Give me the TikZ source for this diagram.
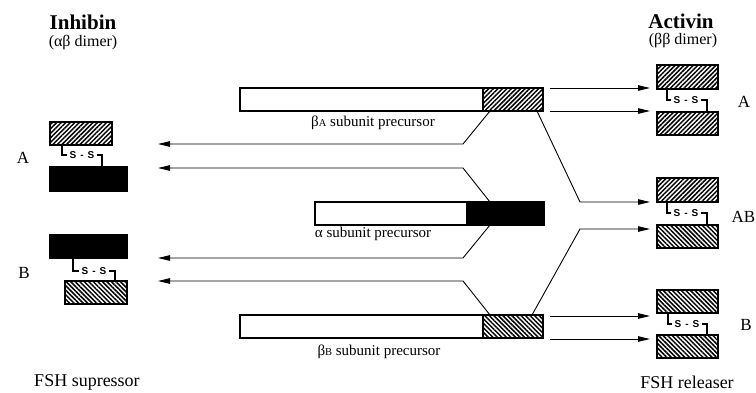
\documentclass[tikz,border=0pt]{standalone}
\usepackage{fontspec}
\setmainfont{Liberation Serif}
\newfontfamily\ssfont{Liberation Sans}
\usetikzlibrary{arrows.meta,patterns.meta}
\tikzset{
  box/.style={draw, line width=1.4pt, inner sep=0pt, outer sep=0pt, anchor=north west},
  hne/.style={box, pattern={Lines[angle=45,distance=3.2pt,line width=1.5pt]}},
  hnw/.style={box, pattern={Lines[angle=-45,distance=3.2pt,line width=1.5pt]}},
  blk/.style={box, fill=black},
  wht/.style={box, fill=white},
  arr/.style={line width=0.9pt, -{Triangle[length=12pt,width=5.5pt]}},
  bond/.style={line width=1.1pt},
  ss/.style={font=\ssfont\bfseries\fontsize{10}{10}\selectfont, inner sep=2pt},
  ttl/.style={font=\bfseries\fontsize{21}{21}\selectfont, inner sep=1pt},
  sub/.style={font=\fontsize{16}{16}\selectfont, inner sep=1pt},
  lbl/.style={font=\fontsize{17}{17}\selectfont},
  fsh/.style={font=\fontsize{18}{18}\selectfont},
  pre/.style={font=\fontsize{15}{15}\selectfont, inner sep=1pt},
}
\newcommand{\smA}{{\fontsize{10.5}{10}\selectfont A}}
\newcommand{\smB}{{\fontsize{10.5}{10}\selectfont B}}
\begin{document}
\begin{tikzpicture}[x=1pt,y=-1pt]
\useasboundingbox (0,0) rectangle (756,392);

% titles
\node[ttl] (tInh) at (83,22) {Inhibin};
\node[sub] (dInh) at (83,43) {(αβ dimer)};
\node[ttl] (tAct) at (681,21) {Activin};
\node[sub] (dAct) at (683,41) {(ββ dimer)};

% inhibin boxes
\node[hne, minimum width=62pt, minimum height=23pt] (iA1) at (50,122) {};
\node[blk, minimum width=77pt, minimum height=24pt] (iA2) at (50,167) {};
\node[blk, minimum width=77pt, minimum height=23pt] (iB1) at (50,235) {};
\node[hnw, minimum width=62pt, minimum height=23pt] (iB2) at (65,281) {};

% precursors
\node[wht, minimum width=243pt, minimum height=23pt] (pAw) at (240,88) {};
\node[hne, minimum width=60pt, minimum height=23pt] (pAh) at (483,88) {};
\node[wht, minimum width=152pt, minimum height=23pt] (pLw) at (315,202) {};
\node[blk, minimum width=77pt, minimum height=23pt] (pLb) at (467,202) {};
\node[wht, minimum width=243pt, minimum height=23pt] (pBw) at (240,315) {};
\node[hnw, minimum width=60pt, minimum height=23pt] (pBh) at (483,315) {};

% activin boxes
\node[hne, minimum width=61pt, minimum height=24pt] (aA1) at (657,65) {};
\node[hne, minimum width=61pt, minimum height=23pt] (aA2) at (657,112) {};
\node[hne, minimum width=61pt, minimum height=24pt] (aAB1) at (657,178) {};
\node[hnw, minimum width=61pt, minimum height=23pt] (aAB2) at (657,225) {};
\node[hnw, minimum width=61pt, minimum height=23pt] (aB1) at (657,290) {};
\node[hnw, minimum width=61pt, minimum height=23pt] (aB2) at (657,335) {};

% disulfide bonds
\node[ss] (s1) at (82,155) {S\hspace{4pt}-\hspace{4pt}S};
\draw[bond] ([xshift=12pt]iA1.south west) |- (s1.west);
\draw[bond] (s1.east) -| ([xshift=52pt]iA2.north west);
\node[ss] (s2) at (94,271) {S\hspace{4pt}-\hspace{4pt}S};
\draw[bond] ([xshift=23pt]iB1.south west) |- (s2.west);
\draw[bond] (s2.east) -| ([xshift=50pt]iB2.north west);
\node[ss] (s3) at (686,100) {S\hspace{4pt}-\hspace{4pt}S};
\draw[bond] ([xshift=10pt]aA1.south west) |- (s3.west);
\draw[bond] (s3.east) -| ([xshift=50pt]aA2.north west);
\node[ss] (s4) at (686,213) {S\hspace{4pt}-\hspace{4pt}S};
\draw[bond] ([xshift=10pt]aAB1.south west) |- (s4.west);
\draw[bond] (s4.east) -| ([xshift=50pt]aAB2.north west);
\node[ss] (s5) at (687,324) {S\hspace{4pt}-\hspace{4pt}S};
\draw[bond] ([xshift=11pt]aB1.south west) |- (s5.west);
\draw[bond] (s5.east) -| ([xshift=50pt]aB2.north west);

% left arrows
\coordinate (kA1) at (463,144); \coordinate (eA1) at (158,144);
\coordinate (kA2) at (463,168); \coordinate (eA2) at (158,168);
\coordinate (kB1) at (463,258); \coordinate (eB1) at (158,258);
\coordinate (kB2) at (463,281); \coordinate (eB2) at (158,281);
\draw[arr] ([xshift=7pt]pAh.south west) -- (kA1) -- (eA1);
\draw[arr] ([xshift=23pt]pLb.north west) -- (kA2) -- (eA2);
\draw[arr] ([xshift=23pt]pLb.south west) -- (kB1) -- (eB1);
\draw[arr] ([xshift=7pt]pBh.north west) -- (kB2) -- (eB2);

% right arrows
\coordinate (tA1) at (650,88);
\coordinate (tA2) at (650,111);
\coordinate (kAB1) at (580,202); \coordinate (tAB1) at (650,202);
\coordinate (kAB2) at (580,229); \coordinate (tAB2) at (650,229);
\coordinate (tB1) at (650,316);
\coordinate (tB2) at (650,339);
\draw[arr] ([xshift=7pt]pAh.north east) -- (tA1);
\draw[arr] ([xshift=7pt]pAh.south east) -- (tA2);
\draw[arr] ([xshift=-6pt]pAh.south east) -- (kAB1) -- (tAB1);
\draw[arr] ([xshift=-11pt]pBh.north east) -- (kAB2) -- (tAB2);
\draw[arr] ([xshift=7pt,yshift=-1pt]pBh.north east) -- (tB1);
\draw[arr] ([xshift=7pt,yshift=-1pt]pBh.south east) -- (tB2);

% precursor labels
\node[pre] (lpA) at (373,123) {β\smA\ subunit precursor};
\node[pre] (lpL) at (373,234) {α subunit precursor};
\node[pre] (lpB) at (379,352) {β\smB\ subunit precursor};

% side labels
\node[lbl] (lA) at (23,158) {A};
\node[lbl] (lB) at (24,273) {B};
\node[lbl] (rA) at (744,102) {A};
\node[lbl, anchor=east, inner sep=0.5pt] (rAB) at (756,217) {AB};
\node[lbl] (rB) at (746,325) {B};

% bottom labels
\node[fsh] (fs) at (87,382) {FSH supressor};
\node[fsh] (fr) at (687,382) {FSH releaser};
\end{tikzpicture}
\end{document}
